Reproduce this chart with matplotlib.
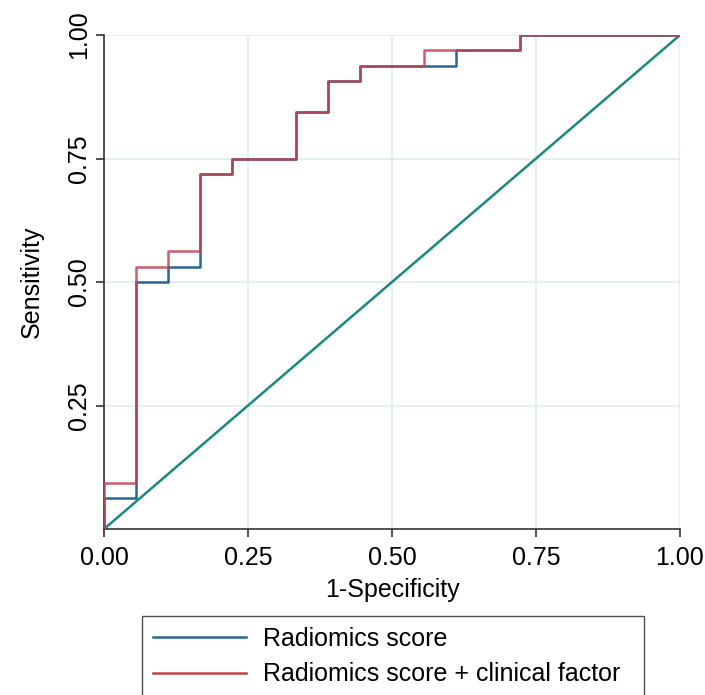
import matplotlib
matplotlib.use('Agg')
import matplotlib.pyplot as plt
from matplotlib.lines import Line2D

plt.rcParams['font.family'] = ['Liberation Sans', 'DejaVu Sans']

# ROC vertices (1-specificity steps of 1/18, sensitivity steps of 1/32)
fpr_rad = [0, 0, 1/18, 1/18, 2/18, 2/18, 3/18, 3/18, 4/18, 4/18, 6/18, 6/18,
           7/18, 7/18, 8/18, 8/18, 11/18, 11/18, 13/18, 13/18, 1]
tpr_rad = [0, 2/32, 2/32, 16/32, 16/32, 17/32, 17/32, 23/32, 23/32, 24/32, 24/32, 27/32,
           27/32, 29/32, 29/32, 30/32, 30/32, 31/32, 31/32, 1, 1]

fpr_comb = [0, 0, 1/18, 1/18, 2/18, 2/18, 3/18, 3/18, 4/18, 4/18, 6/18, 6/18,
            7/18, 7/18, 8/18, 8/18, 10/18, 10/18, 13/18, 13/18, 1]
tpr_comb = [0, 3/32, 3/32, 17/32, 17/32, 18/32, 18/32, 23/32, 23/32, 24/32, 24/32, 27/32,
            27/32, 29/32, 29/32, 30/32, 30/32, 31/32, 31/32, 1, 1]

ref_line = [0, 1]
ticks = [0, 0.25, 0.5, 0.75, 1.0]
tick_labels = ['0.00', '0.25', '0.50', '0.75', '1.00']
series_names = ['Radiomics score', 'Radiomics score + clinical factor']

BLUE = '#2a6592'
RED = '#c0434f'
TEAL = '#1a8a7c'
GRID = '#e4eff1'
FS = 18

fig = plt.figure(figsize=(7.05, 6.95), dpi=100)
ax = fig.add_axes([0.1475, 0.2388, 0.817, 0.7108])

ax.plot(fpr_rad, tpr_rad, color=BLUE, lw=1.8, zorder=3)
ax.plot(fpr_comb, tpr_comb, color=RED, lw=1.8, alpha=0.85, zorder=4)
ax.plot(ref_line, ref_line, color=TEAL, lw=1.8, zorder=2)

ax.set_xlim(0, 1)
ax.set_ylim(0, 1)
ax.set_xticks(ticks)
ax.set_xticklabels(tick_labels, fontsize=FS)
ax.set_yticks(ticks[1:])
ax.set_yticklabels(tick_labels[1:], fontsize=FS, rotation=90, va='center')
ax.grid(True, color=GRID, lw=1.5, zorder=0)
ax.axvline(1, color=GRID, lw=1.5, zorder=0)
ax.set_axisbelow(True)

for s in ['top', 'right']:
    ax.spines[s].set_visible(False)
for s in ['left', 'bottom']:
    ax.spines[s].set_color('#333333')
    ax.spines[s].set_linewidth(1.2)
ax.tick_params(direction='out', length=6, width=1.2, color='#333333', pad=6)
ax.tick_params(axis='y', pad=3)

ax.set_xlabel('1-Specificity', fontsize=FS, labelpad=6)
ax.set_ylabel('Sensitivity', fontsize=FS, labelpad=17)

leg_w = 502 / 705
handles = [Line2D([], [], color=BLUE, lw=1.8), Line2D([], [], color=RED, lw=1.8)]
leg = fig.legend(handles, series_names, loc='upper left',
                 bbox_to_anchor=(0.2014, 0.0137, leg_w, 0.1), mode='expand',
                 borderaxespad=0, fontsize=FS, frameon=True, fancybox=False,
                 edgecolor='#222222', handlelength=3.7, handletextpad=0.68,
                 borderpad=0.45, labelspacing=0.45)
leg.get_frame().set_linewidth(1.0)

fig.savefig('out.png', dpi=100)
